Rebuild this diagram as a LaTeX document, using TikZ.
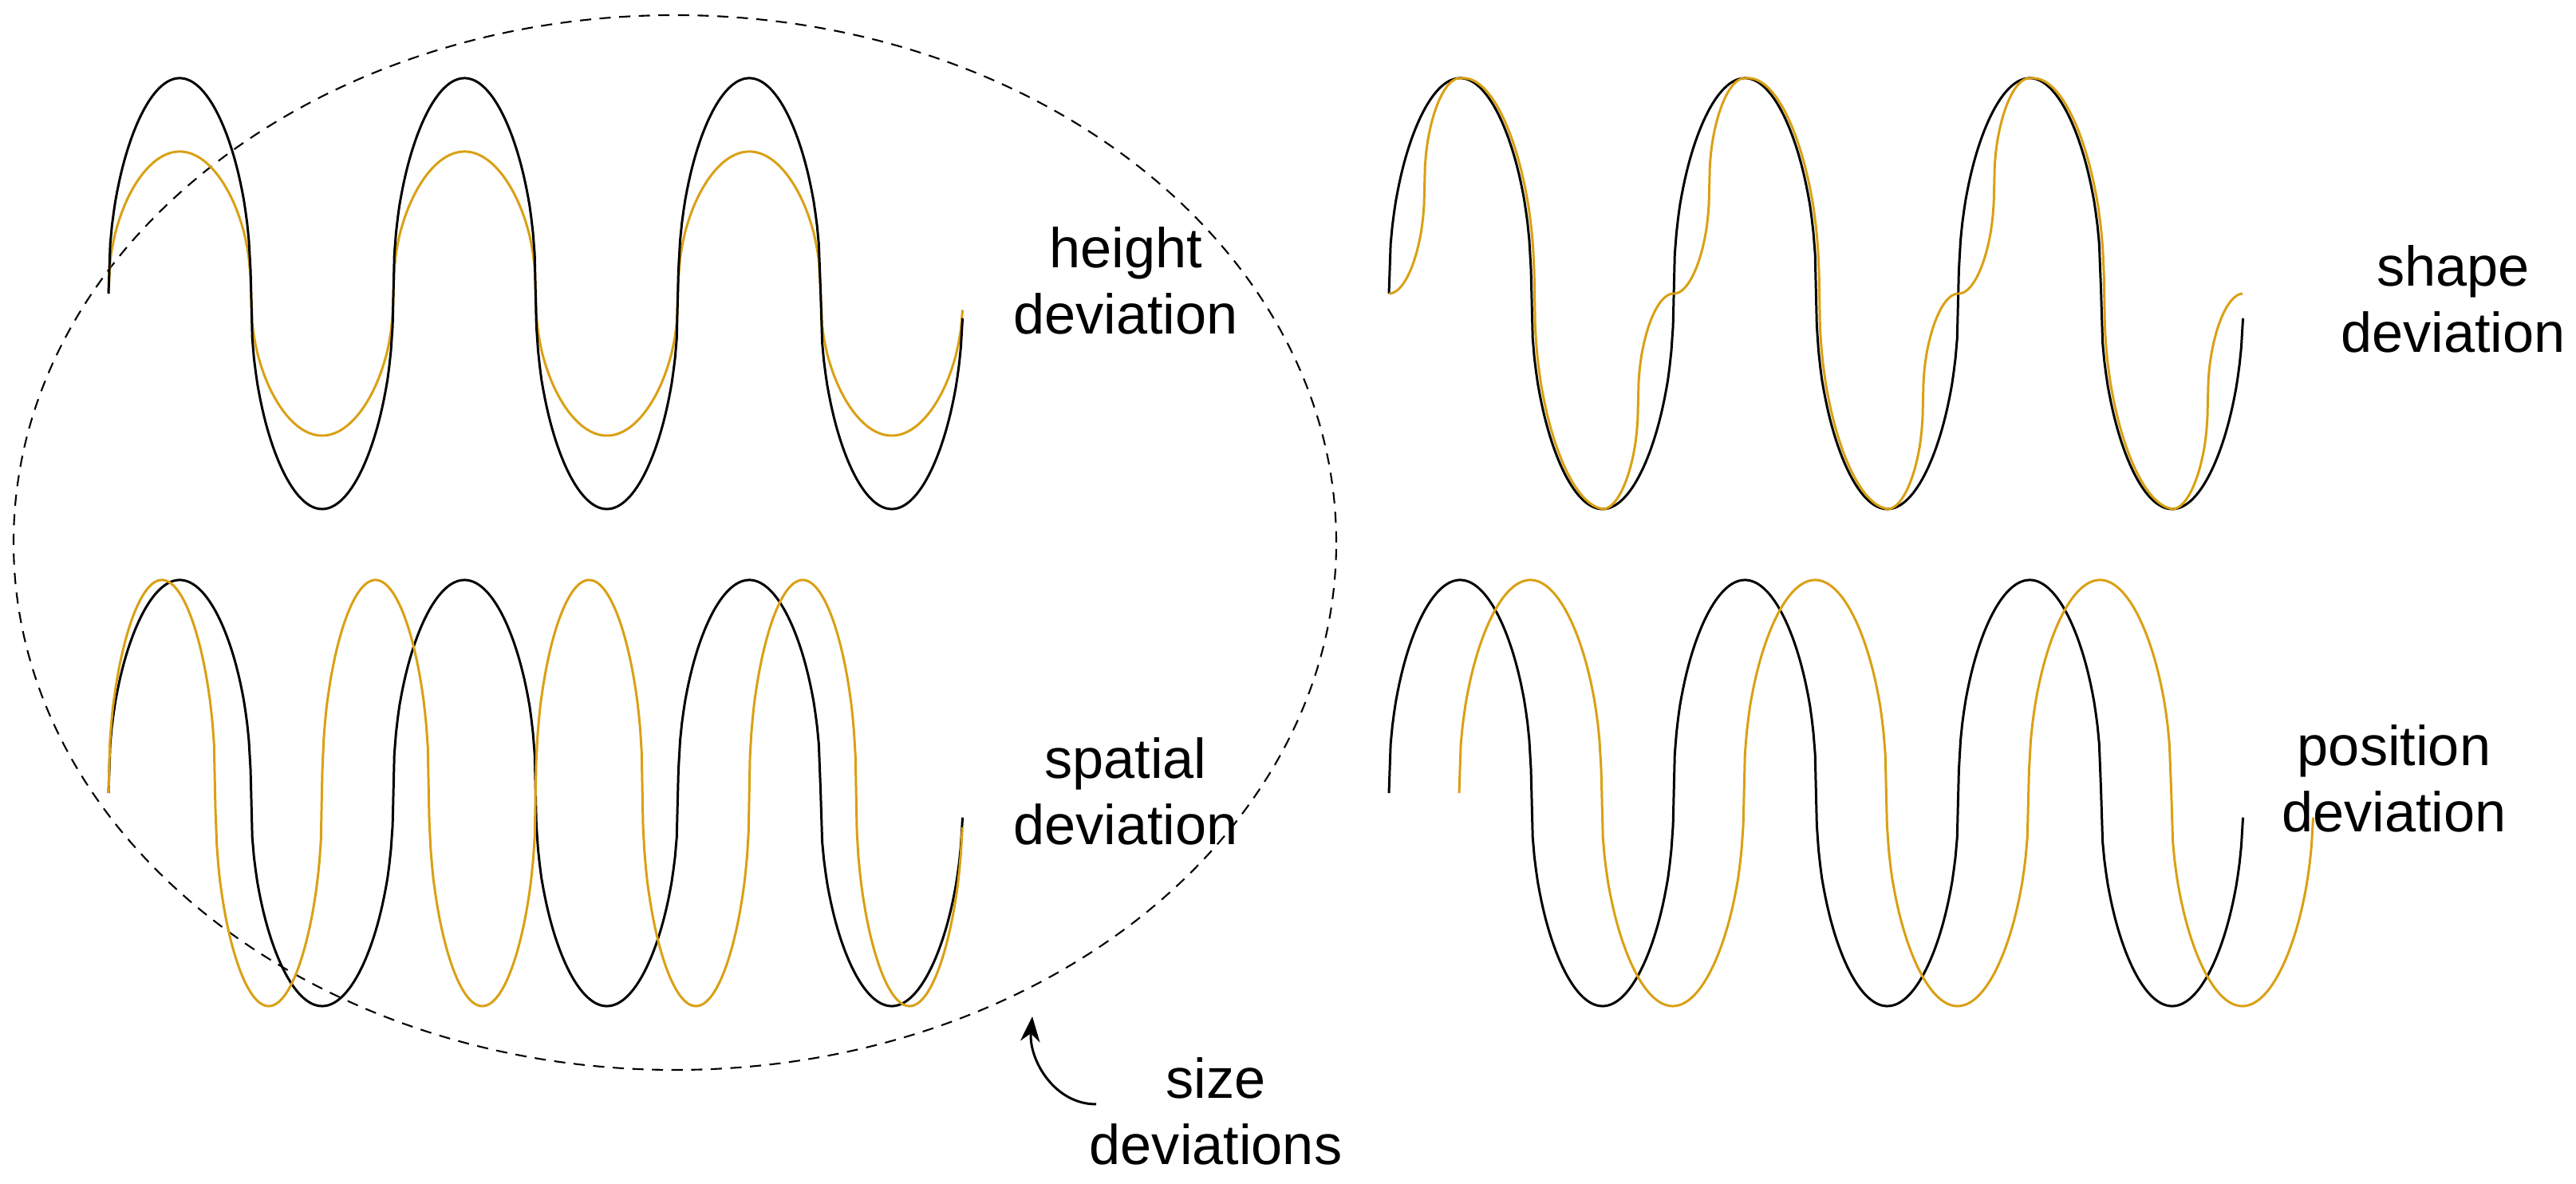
\documentclass[tikz,border=0pt]{standalone}
\usepackage{fontspec}
\setmainfont{Liberation Sans}
\usetikzlibrary{arrows.meta}
\definecolor{goldenrod}{RGB}{218,160,20}

\begin{document}
\begin{tikzpicture}[line width=0.85pt,
  declare function={sw(\t)=sign(sin(\t))*abs(sin(\t))^0.45;
                    rr(\t)=mod(\t+90,360)/90;
                    ws(\t)=ifthenelse(rr(\t)<2, floor(rr(\t))-0.5+0.5*sw(-90+180*(rr(\t)-floor(rr(\t)))), sw(\t-4));},
  ref/.style={draw=black},
  dev/.style={draw=goldenrod},
  lbl/.style={align=center, font=\fontsize{20pt}{23.5pt}\selectfont}]
  \useasboundingbox (0,0) rectangle (32.29,14.84);
  % size ellipse
  \draw[line width=0.6pt, dash pattern=on 4pt off 3pt] (8.46,8.04) ellipse (8.29 and 6.61);
  % height deviation
  \draw[dev] plot[domain=1.36:12.07, samples=500] (\x,{11.16+1.78*sw((\x-1.36)/3.57*360)});
  \draw[ref] plot[domain=1.36:12.07, samples=500] (\x,{11.16+2.70*sw((\x-1.36)/3.57*360)});
  % spatial deviation
  \draw[ref] plot[domain=1.36:12.07, samples=500] (\x,{4.90+2.67*sw((\x-1.36)/3.57*360)});
  \draw[dev] plot[domain=1.36:12.07, samples=600] (\x,{4.90+2.67*sw((\x-1.36)/2.6775*360)});
  % shape deviation
  \draw[ref] plot[domain=17.41:28.12, samples=500] (\x,{11.16+2.70*sw((\x-17.41)/3.57*360)});
  \draw[dev] plot[domain=17.41:28.12, samples=900] (\x,{11.16+2.70*ws((\x-17.41)/3.57*360)});
  % position deviation
  \draw[ref] plot[domain=17.41:28.12, samples=500] (\x,{4.90+2.67*sw((\x-17.41)/3.57*360)});
  \draw[dev] plot[domain=18.29:29.00, samples=500] (\x,{4.90+2.67*sw((\x-18.29)/3.57*360)});
  % labels
  \node[lbl] (height) at (14.11,11.32) {height\\deviation};
  \node[lbl] (spatial) at (14.11,4.92) {spatial\\deviation};
  \node[lbl] (shape) at (30.75,11.09) {shape\\deviation};
  \node[lbl] (position) at (30.01,5.08) {position\\deviation};
  \node[lbl] (size) at (15.24,0.91) {size\\deviations};
  \coordinate (tail) at (13.74,1.00);
  \coordinate (tip) at (12.94,2.10);
  \draw[-{Stealth[length=9pt,width=7pt]}] (tail) to[out=180,in=-95] (tip);
\end{tikzpicture}
\end{document}
